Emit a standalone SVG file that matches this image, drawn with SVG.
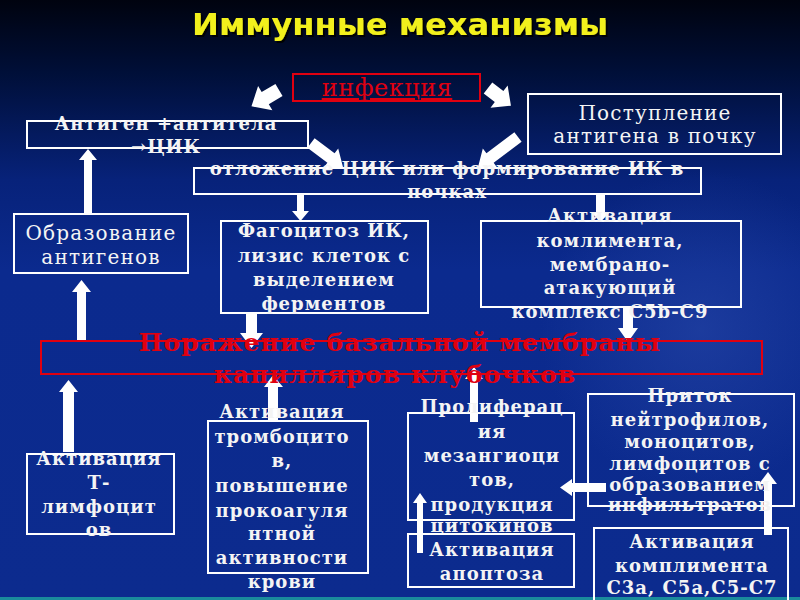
<svg xmlns="http://www.w3.org/2000/svg" width="800" height="600" viewBox="0 0 800 600">
<defs>
<linearGradient id="bg" x1="0" y1="0" x2="0" y2="1">
<stop offset="0" stop-color="#00030f"/>
<stop offset="0.12" stop-color="#000f38"/>
<stop offset="0.3" stop-color="#07227a"/>
<stop offset="0.45" stop-color="#0b2a8e"/>
<stop offset="1" stop-color="#0c2b8e"/>
</linearGradient>
<radialGradient id="glow" cx="700" cy="330" r="160" gradientUnits="userSpaceOnUse">
<stop offset="0" stop-color="#3050b0" stop-opacity="0.45"/>
<stop offset="1" stop-color="#3050b0" stop-opacity="0"/>
</radialGradient>
<filter id="sh" x="-5%" y="-20%" width="110%" height="140%">
<feDropShadow dx="2" dy="2" stdDeviation="0.6" flood-color="#000" flood-opacity="0.9"/>
</filter>
</defs>
<style>
.box{fill:none;stroke:#ffffff;stroke-width:2}
.rbox{fill:none;stroke:#e00010;stroke-width:2}
.t{font-family:"DejaVu Serif","Liberation Serif",serif;font-weight:bold;fill:#f4f4f4;text-anchor:middle;font-size:18px;letter-spacing:1px}
.tn{font-family:"DejaVu Serif","Liberation Serif",serif;font-weight:normal;fill:#f4f4f4;text-anchor:middle;font-size:20px;letter-spacing:1.2px}
.red{font-family:"DejaVu Serif","Liberation Serif",serif;font-weight:bold;fill:#e00010;text-anchor:middle;font-size:25px;letter-spacing:1.1px}
.arr{fill:#ffffff}
.title{font-family:"DejaVu Sans","Liberation Sans",sans-serif;font-weight:bold;fill:#f2f01e;text-anchor:middle;font-size:30px}
</style>
<rect x="0" y="0" width="800" height="600" fill="url(#bg)"/>
<rect x="0" y="0" width="800" height="600" fill="url(#glow)"/>
<rect x="0" y="597" width="800" height="3" fill="#1a8c9c"/>

<g id="title"><text class="title" x="400" y="35" textLength="416" lengthAdjust="spacingAndGlyphs" filter="url(#sh)">Иммунные механизмы</text></g>

<g id="connectors">
<polygon class="arr" transform="translate(279,90) rotate(149.4)" points="0,-7 16,-7 16,-14 32,0 16,14 16,7 0,7"/>
<polygon class="arr" transform="translate(488,88) rotate(37.7)" points="0,-7 14,-7 14,-14 29,0 14,14 14,7 0,7"/>
<polygon class="arr" transform="translate(311,143) rotate(36.9)" points="0,-6 25,-6 25,-12 40,0 25,12 25,6 0,6"/>
<polygon class="arr" transform="translate(518,137) rotate(143)" points="0,-6 35,-6 35,-12 50,0 35,12 35,6 0,6"/>
<polygon class="arr" points="84,214 84,160 79,160 88,149 97,160 92,160 92,214"/>
<polygon class="arr" points="77,341 77,292 72,292 81.5,280 91,292 86,292 86,341"/>
<polygon class="arr" points="63,452 63,392 59,392 68.5,380 78,392 74,392 74,452"/>
<polygon class="arr" points="268,420 268,387 264,387 273,375 283,387 278,387 278,420"/>
<polygon class="arr" points="470,422 470,379 465,379 474,367 483,379 478,379 478,422"/>
<polygon class="arr" points="417,553 417,503 413,503 420,493 427,503 423,503 423,553"/>
<polygon class="arr" points="764,535 764,484 759,484 768,472 777,484 772,484 772,535"/>
<polygon class="arr" points="297,195 297,211 292,211 300.5,221 309,211 304,211 304,195"/>
<polygon class="arr" points="596,195 596,212 591,212 600.5,222 610,212 605,212 605,195"/>
<polygon class="arr" points="246,314 246,333 240,333 251.5,348 263,333 257,333 257,314"/>
<polygon class="arr" points="623,308 623,328 618,328 628,342 638,328 633,328 633,308"/>
<polygon class="arr" points="606,483 572,483 572,479 560,487.5 572,496 572,492 606,492"/>
</g>

<g id="infection">
<rect class="rbox" x="293" y="74" width="187" height="27"/>
<text x="387" y="96" font-family="'DejaVu Serif','Liberation Serif',serif" font-size="24" letter-spacing="0.5" fill="#e00010" text-anchor="middle" text-decoration="underline">инфекция</text>
</g>

<g id="antigen-antibody">
<rect class="box" x="27" y="121" width="281" height="27"/>
<text class="t" x="166" y="130" letter-spacing="2.2">Антиген +антитела</text>
<text class="t" x="166" y="153">→ЦИК</text>
</g>

<g id="kidney-entry">
<rect class="box" x="528" y="94" width="253" height="60"/>
<text class="tn" x="655" y="120">Поступление</text>
<text class="tn" x="655" y="143">антигена в почку</text>
</g>

<g id="deposition">
<rect class="box" x="194" y="168" width="507" height="26"/>
<text class="t" x="447" y="175" font-size="19" letter-spacing="1.3">отложение ЦИК или формирование ИК в</text>
<text class="t" x="447" y="198" font-size="19" letter-spacing="1.3">почках</text>
</g>

<g id="antigen-formation">
<rect class="box" x="14" y="214" width="174" height="59"/>
<text class="tn" x="101" y="240">Образование</text>
<text class="tn" x="101" y="264">антигенов</text>
</g>

<g id="phagocytosis">
<rect class="box" x="221" y="221" width="207" height="92"/>
<text class="t" x="324" y="237">Фагоцитоз ИК,</text>
<text class="t" x="324" y="262">лизис клеток с</text>
<text class="t" x="324" y="286">выделением</text>
<text class="t" x="324" y="310">ферментов</text>
</g>

<g id="complement-mac">
<rect class="box" x="481" y="221" width="260" height="86"/>
<text class="t" x="610" y="222">Активация</text>
<text class="t" x="610" y="247">комлимента,</text>
<text class="t" x="610" y="271">мембрано-</text>
<text class="t" x="610" y="294">атакующий</text>
<text class="t" x="610" y="318">комплекс C5b-C9</text>
</g>

<g id="membrane-damage">
<rect class="rbox" x="41" y="341" width="721" height="33"/>
<text class="red" x="400" y="351">Поражение базальной мембраны</text>
<text class="red" x="395" y="383">капилляров клубочков</text>
</g>

<g id="t-lymph">
<rect class="box" x="27" y="454" width="147" height="80"/>
<text class="t" x="99" y="465">Активация</text>
<text class="t" x="99" y="489">Т-</text>
<text class="t" x="99" y="513">лимфоцит</text>
<text class="t" x="99" y="536">ов</text>
</g>

<g id="platelets">
<rect class="box" x="208" y="421" width="160" height="152"/>
<text class="t" x="282" y="418">Активация</text>
<text class="t" x="282" y="443">тромбоцито</text>
<text class="t" x="282" y="467">в,</text>
<text class="t" x="282" y="492">повышение</text>
<text class="t" x="282" y="517">прокоагуля</text>
<text class="t" x="282" y="540">нтной</text>
<text class="t" x="282" y="564">активности</text>
<text class="t" x="282" y="588">крови</text>
</g>

<g id="proliferation">
<rect class="box" x="408" y="413" width="166" height="107"/>
<text class="t" x="492" y="413">Пролиферац</text>
<text class="t" x="492" y="438">ия</text>
<text class="t" x="492" y="462">мезангиоци</text>
<text class="t" x="492" y="486">тов,</text>
<text class="t" x="492" y="511">продукция</text>
<text class="t" x="492" y="532">цитокинов</text>
</g>

<g id="apoptosis">
<rect class="box" x="408" y="534" width="166" height="53"/>
<text class="t" x="492" y="556">Активация</text>
<text class="t" x="492" y="580">апоптоза</text>
</g>

<g id="infiltration">
<rect class="box" x="588" y="394" width="206" height="112"/>
<text class="t" x="690" y="402">Приток</text>
<text class="t" x="690" y="426">нейтрофилов,</text>
<text class="t" x="690" y="448">моноцитов,</text>
<text class="t" x="690" y="470">лимфоцитов с</text>
<text class="t" x="690" y="491">образованием</text>
<text class="t" x="690" y="511">инфильтратов</text>
</g>

<g id="complement-c3a">
<rect class="box" x="594" y="528" width="194" height="74"/>
<text class="t" x="692" y="548">Активация</text>
<text class="t" x="692" y="572">комплимента</text>
<text class="t" x="692" y="594">C3a, C5a,C5-C7</text>
</g>
</svg>
